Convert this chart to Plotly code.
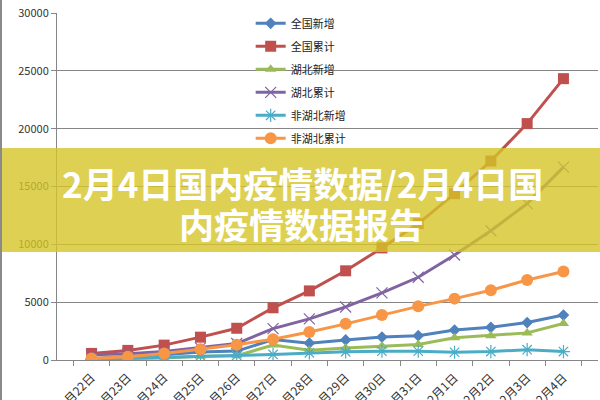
import plotly.graph_objects as go

dates = ["1月22日", "1月23日", "1月24日", "1月25日", "1月26日", "1月27日", "1月28日",
         "1月29日", "1月30日", "1月31日", "2月1日", "2月2日", "2月3日", "2月4日"]
national_new = [131, 259, 444, 688, 769, 1771, 1459, 1737, 1982, 2102, 2590, 2829, 3235, 3887]
national_total = [571, 830, 1287, 1975, 2744, 4515, 5974, 7711, 9692, 11791, 14380, 17205, 20438, 24324]
hubei_new = [69, 105, 180, 323, 371, 1291, 840, 1032, 1220, 1347, 1921, 2103, 2345, 3156]
hubei_total = [444, 549, 729, 1052, 1423, 2714, 3554, 4586, 5806, 7153, 9074, 11177, 13522, 16678]
other_new = [62, 154, 264, 365, 398, 480, 619, 705, 762, 755, 669, 726, 890, 731]
other_total = [127, 281, 558, 923, 1321, 1801, 2420, 3125, 3886, 4638, 5306, 6028, 6916, 7646]

series = [
    ("全国新增", national_new, "#4F81BD", "diamond", 9),
    ("全国累计", national_total, "#C0504D", "square", 11),
    ("湖北新增", hubei_new, "#9BBB59", "triangle-up", 10),
    ("湖北累计", hubei_total, "#8064A2", "x-thin", 11),
    ("非湖北新增", other_new, "#4BACC6", "asterisk", 11),
    ("非湖北累计", other_total, "#F79646", "circle", 12),
]

FONT = "Noto Sans CJK SC"
fig = go.Figure()
for i, (name, vals, color, sym, size) in enumerate(series):
    fig.add_trace(go.Scatter(
        x=dates, y=vals, name=name, mode="lines+markers",
        line=dict(color=color, width=3),
        marker=dict(symbol=sym, size=size, color=color,
                    line=dict(color=color, width=1.2 if sym in ("x-thin", "asterisk") else 0)),
        legendgroup=f"g{i}",
    ))

fig.update_layout(
    width=600, height=400,
    margin=dict(l=57, r=2, t=13, b=40),
    paper_bgcolor="white", plot_bgcolor="white",
    font=dict(family=FONT, size=10, color="#333333"),
    showlegend=True,
    legend=dict(x=0.358, y=1.012, xanchor="left", yanchor="top",
                bgcolor="rgba(0,0,0,0)", borderwidth=0,
                font=dict(family=FONT, size=11, color="#222222"),
                tracegroupgap=4, itemwidth=30),
    xaxis=dict(type="category", showgrid=False, showline=True, linecolor="#868686",
               linewidth=1, ticks="outside", tickson="boundaries", ticklen=5,
               tickcolor="#868686", tickangle=-45, automargin=False,
               ticklabelstandoff=5,
               tickfont=dict(family=FONT, size=12, color="#333333")),
    yaxis=dict(range=[0, 30000], dtick=5000, tickformat="d", showgrid=True,
               gridcolor="#868686", gridwidth=1, showline=True, linecolor="#868686",
               linewidth=1, ticks="outside", ticklen=5, tickcolor="#868686",
               zeroline=False, automargin=False,
               tickfont=dict(family=FONT, size=11, color="#333333")),
    shapes=[
        dict(type="rect", xref="paper", yref="paper", x0=-0.2, x1=1.2,
             y0=(360 - 252) / 347, y1=(360 - 148) / 347,
             fillcolor="rgba(212,196,40,0.8)", line=dict(width=0), layer="above"),
        dict(type="line", xref="paper", yref="paper", x0=-56 / 541, x1=-56 / 541,
             y0=-0.2, y1=1.1, line=dict(color="#8a8a8a", width=2), layer="above"),
    ],
    annotations=[
        dict(text="<b>2月4日国内疫情数据/2月4日国</b>",
             xref="paper", yref="paper", x=(302 - 57) / 541, y=(360 - 182) / 347,
             xanchor="center", yanchor="middle", showarrow=False, align="center",
             height=38, borderpad=0,
             font=dict(family=FONT, size=35, color="white")),
        dict(text="<b>内疫情数据报告</b>",
             xref="paper", yref="paper", x=(301 - 57) / 541, y=(360 - 223) / 347,
             xanchor="center", yanchor="middle", showarrow=False, align="center",
             height=38, borderpad=0,
             font=dict(family=FONT, size=35, color="white")),
    ],
)

fig.write_html("out.html", config={"displayModeBar": False},
               post_script="document.body.style.margin='0';")
